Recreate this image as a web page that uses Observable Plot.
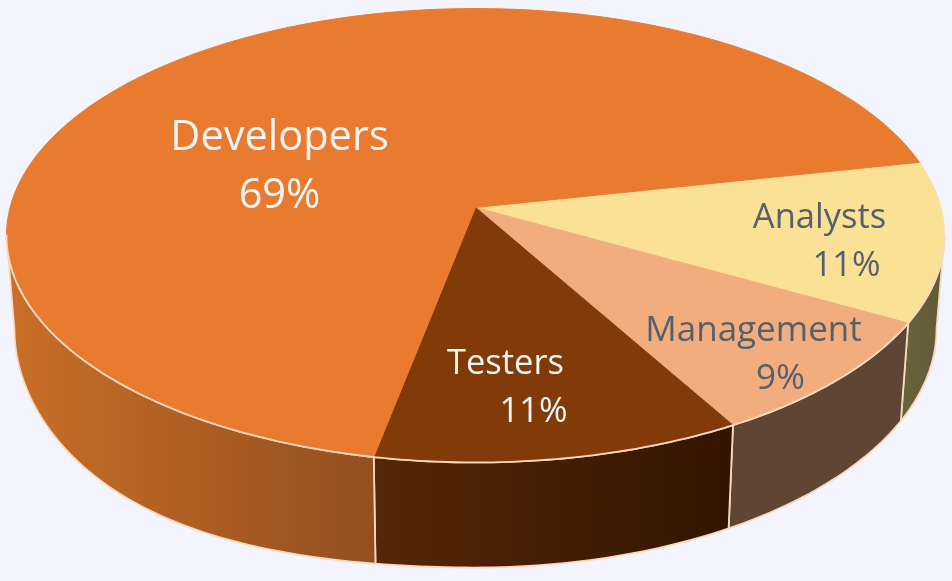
<!DOCTYPE html>
<html>
<head>
<meta charset="utf-8">
<script src="https://cdn.jsdelivr.net/npm/d3@7"></script>
<script src="https://cdn.jsdelivr.net/npm/@observablehq/plot@0.6"></script>
<style>
html,body{margin:0;padding:0;background:#f3f4fd;overflow:hidden}
svg{display:block;filter:blur(0.4px)}
</style>
</head>
<body>
<div id="chart"></div>
<script>
// Data, clockwise on screen from the Analysts slice
const categories = ["Analysts", "Management", "Testers", "Developers"];
const shares = [11.4, 8.7, 11.3, 68.6];
const topColors = ["#fbe195", "#f2ad7e", "#823a09", "#e97b30"];
const sideStart = ["#6a623c", "#5f4534", "#562708", "#c96f28"];
const sideEnd = ["#625a36", "#5f4534", "#321500", "#934f1f"];
const labelColors = ["#56606a", "#56606a", "#f5f5f5", "#f5f5f5"];
// Text placement: [name x, name baseline, share x, share baseline, size]
const labelPlaces = [
  [819, 229, 846, 277, 34.5],
  [753, 342, 780, 390, 35],
  [505, 375, 533, 423, 34.5],
  [279, 151, 279, 209, 41.5]
];

// Perspective view of the disc
const startDeg = -11.96, k = 0.1233, A = 465.4;
const topFace = {cx: 475, cy: 207, sx: A, sy: 223.5, bulge: 0};
const baseFace = {cx: 475, cy: 299, sx: A * 0.983, sy: 235, bulge: 13};
const rad = (d) => d * Math.PI / 180;
const project = (deg, f) => {
  const den = 1 - k * Math.sin(rad(deg));
  const lowerLeft = deg > 90 && deg < 180 ? Math.sin(rad(2 * deg)) ** 2 : 0;
  return {
    x: f.cx + f.sx * Math.cos(rad(deg)) / den,
    y: f.cy + f.sy * Math.sin(rad(deg)) / den + f.bulge * lowerLeft
  };
};
const arcPoints = (a, b, f) => {
  const n = Math.max(2, Math.ceil(Math.abs(b - a)));
  return d3.range(n + 1).map((i) => project(a + (b - a) * i / n, f));
};

const arcs = d3.pie().sort(null).startAngle(rad(startDeg)).endAngle(rad(startDeg + 360))(shares);
const slices = arcs.map((d) => ({a: d.startAngle * 180 / Math.PI, b: d.endAngle * 180 / Math.PI}));

// The side wall is visible only between the disc's two silhouette tangents
const tangent = Math.asin(k) * 180 / Math.PI;
const sidePolys = slices.map(({a, b}) => {
  const lo = Math.max(a, tangent), hi = Math.min(b, 180 - tangent);
  if (hi <= lo) return null;
  const pts = [...arcPoints(lo, hi, topFace), ...arcPoints(hi, lo, baseFace)];
  return [...pts, pts[0]];
});
const topPolys = slices.map(({a, b}) => {
  const apex = {x: topFace.cx, y: topFace.cy};
  return [apex, ...arcPoints(a, b, topFace), apex];
});

const defs = () => {
  const g = d3.create("svg:defs");
  categories.forEach((c, i) => {
    const lg = g.append("linearGradient").attr("id", "side" + i);
    lg.append("stop").attr("offset", "0%").attr("stop-color", sideStart[i]);
    lg.append("stop").attr("offset", "100%").attr("stop-color", sideEnd[i]);
  });
  return g.node();
};

const edge = "#f8d9bf";
const marks = [defs];
sidePolys.forEach((p, i) => {
  if (p) marks.push(Plot.line(p, {x: "x", y: "y", curve: "linear", fill: `url(#side${i})`, stroke: edge, strokeWidth: 1.8, strokeLinejoin: "round"}));
});
topPolys.forEach((p, i) => {
  marks.push(Plot.line(p, {x: "x", y: "y", curve: "linear", fill: topColors[i], stroke: topColors[i], strokeWidth: 1, strokeLinejoin: "round"}));
});
// Pale rim along the visible front edge
slices.forEach(({a, b}) => {
  const lo = Math.max(a, tangent), hi = Math.min(b, 180 - tangent);
  if (hi > lo) marks.push(Plot.line(arcPoints(lo, hi, topFace), {x: "x", y: "y", curve: "linear", stroke: edge, strokeWidth: 1.8}));
});
categories.forEach((c, i) => {
  const [nx, ny, sx, sy, size] = labelPlaces[i];
  const common = {x: "x", y: "y", text: "t", fill: labelColors[i], fontSize: size, lineAnchor: "bottom", textAnchor: "middle", fontFamily: "'Open Sans'"};
  marks.push(Plot.text([{x: nx, y: ny - 2, t: c}], common));
  marks.push(Plot.text([{x: sx, y: sy - 2, t: d3.format(".0%")(shares[i] / 100)}], common));
});

const chart = Plot.plot({
  width: 952, height: 581, margin: 0,
  style: {background: "#f3f4fd"},
  x: {type: "identity", axis: null},
  y: {type: "identity", axis: null},
  marks
});
document.getElementById("chart").append(chart);
</script>
</body>
</html>
